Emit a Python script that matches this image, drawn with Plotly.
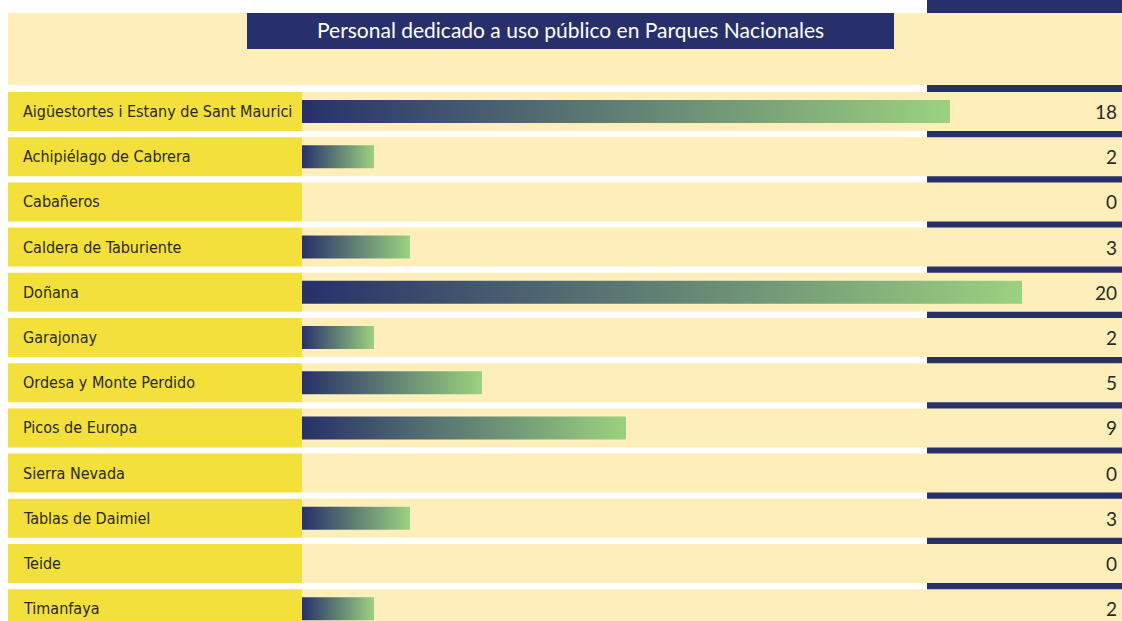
import plotly.graph_objects as go

# data
parks = ["Aigüestortes i Estany de Sant Maurici", "Achipiélago de Cabrera", "Cabañeros",
         "Caldera de Taburiente", "Doñana", "Garajonay", "Ordesa y Monte Perdido",
         "Picos de Europa", "Sierra Nevada", "Tablas de Daimiel", "Teide", "Timanfaya"]
staff = [18, 2, 0, 3, 20, 2, 5, 9, 0, 3, 0, 2]
title = "Personal dedicado a uso público en Parques Nacionales"

NAVY = "#27306A"
CREAM = "#FEEFBA"
YELLOW = "#F3E03A"
GREEN = "#9BD27F"
TEXT = "#2A2926"

W, H = 1122, 621
ROW0, PITCH = 111.5, 45.2      # centre of first row and row pitch, px
X0, UNIT = 302, 36.0           # bar origin and px per person

def px(x):
    return x / W

def py(y):
    return 1 - y / H

band = 19.5 / PITCH
half = 11.5 / PITCH

fig = go.Figure()

for i, v in enumerate(staff):
    if v == 0:
        continue
    fig.add_trace(go.Scatter(
        x=[0, v, v, 0, 0],
        y=[i - half, i - half, i + half, i + half, i - half],
        mode="lines", fill="toself", line=dict(width=0),
        fillgradient=dict(type="horizontal", colorscale=[[0, NAVY], [1, GREEN]]),
        hoverinfo="skip", showlegend=False))

shapes = [
    # navy strip on the right, shows through the gaps
    dict(type="rect", xref="paper", yref="paper", x0=px(927), x1=1, y0=0, y1=1,
         fillcolor=NAVY, line_width=0, layer="below"),
    # title area
    dict(type="rect", xref="paper", yref="paper", x0=px(8), x1=1, y0=py(85), y1=py(13),
         fillcolor=CREAM, line_width=0, layer="below"),
    dict(type="rect", xref="paper", yref="paper", x0=px(247), x1=px(894), y0=py(49), y1=py(13),
         fillcolor=NAVY, line_width=0, layer="below"),
]
annotations = [
    dict(text=title, xref="paper", yref="paper", x=px(570.5), y=py(30), showarrow=False,
         xanchor="center", yanchor="middle",
         font=dict(family="Lato, Open Sans, sans-serif", size=21, color="white")),
]

for i, (name, v) in enumerate(zip(parks, staff)):
    shapes.append(dict(type="rect", xref="paper", yref="y", x0=px(8), x1=px(X0),
                       y0=i - band, y1=i + band, fillcolor=YELLOW, line_width=0, layer="below"))
    shapes.append(dict(type="rect", xref="paper", yref="y", x0=px(X0), x1=1,
                       y0=i - band, y1=i + band, fillcolor=CREAM, line_width=0, layer="below"))
    annotations.append(dict(text=name, xref="paper", yref="y", x=px(21), y=i, showarrow=False,
                            xanchor="left", yanchor="middle",
                            font=dict(family="DejaVu Sans Condensed, sans-serif",
                                      size=16, color=TEXT)))
    annotations.append(dict(text=str(v), xref="paper", yref="y", x=px(1119), y=i, showarrow=False,
                            xanchor="right", yanchor="middle",
                            font=dict(family="Lato, sans-serif", size=19, color=TEXT)))

fig.update_layout(
    width=W, height=H, margin=dict(l=0, r=0, t=0, b=0),
    paper_bgcolor="white", plot_bgcolor="rgba(0,0,0,0)",
    shapes=shapes, annotations=annotations,
    xaxis=dict(domain=[px(X0), 1], range=[0, (W - X0) / UNIT], visible=False, fixedrange=True),
    yaxis=dict(domain=[0, 1], range=[(H - ROW0) / PITCH, -ROW0 / PITCH], visible=False, fixedrange=True),
)

fig.write_html("out.html", config={"displayModeBar": False},
               post_script="document.body.style.margin='0';")
